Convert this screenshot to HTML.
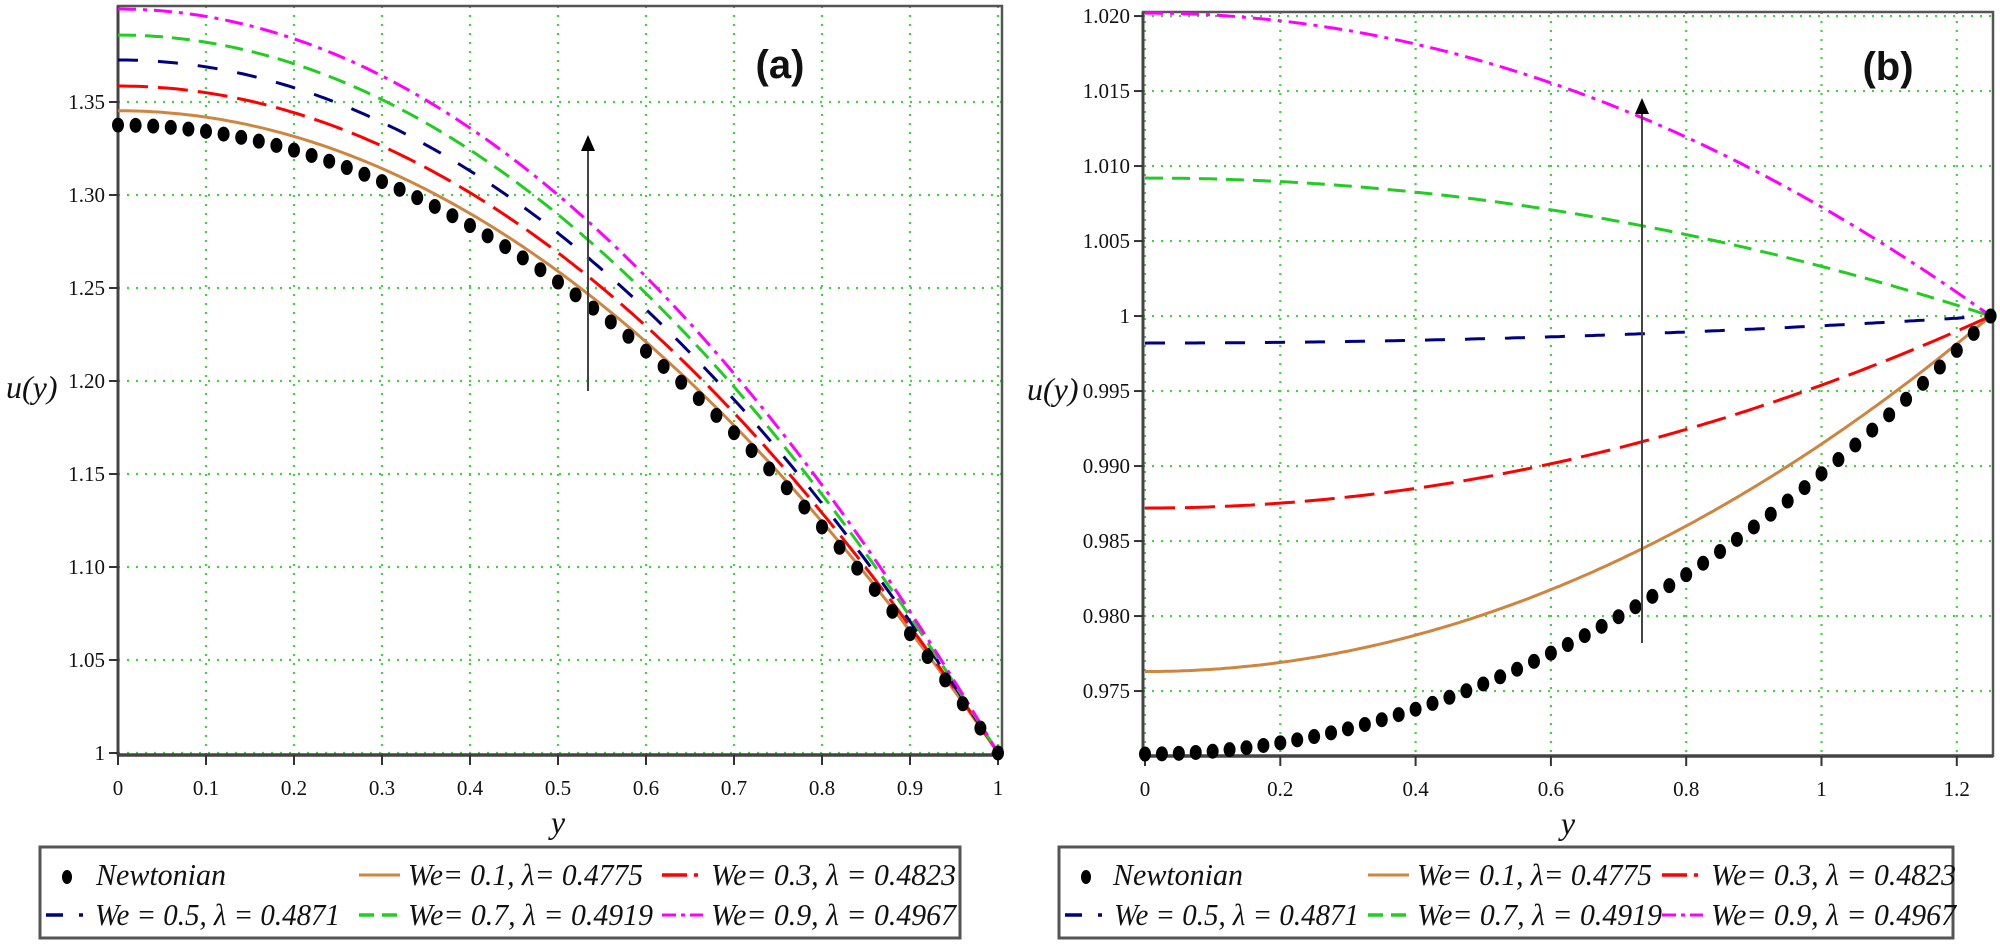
<!DOCTYPE html>
<html><head><meta charset="utf-8"><style>
html,body{margin:0;padding:0;background:#fff;}
svg{display:block;}
text{font-family:"Liberation Serif",serif;fill:#111;}
</style></head><body>
<svg id="s" width="2000" height="946" xmlns="http://www.w3.org/2000/svg">
<g id="g"></g>
</svg>
<script>
const NS="http://www.w3.org/2000/svg";const G=document.getElementById('g');
function el(t,a,txt){const e=document.createElementNS(NS,t);for(const k in a)e.setAttribute(k,a[k]);if(txt!==undefined)e.textContent=txt;G.appendChild(e);return e;}
const grid="#44d044";
function panel(P){
 const X=v=>P.x0+(v-P.xmin)*P.sx, Y=v=>P.y0-(v-P.ymin)*P.sy;
 P.xt.forEach(v=>{el('line',{x1:X(v),x2:X(v),y1:P.top,y2:P.bot,stroke:grid,'stroke-width':2.2,'stroke-dasharray':'2 7'});});
 P.yt.forEach(v=>{el('line',{x1:P.left,x2:P.right,y1:Y(v),y2:Y(v),stroke:grid,'stroke-width':2.2,'stroke-dasharray':'2 7'});});
 el('rect',{x:P.left,y:P.top,width:P.right-P.left,height:P.bot-P.top,fill:'none',stroke:'#555','stroke-width':2.5});
 el('line',{x1:P.left,x2:P.right,y1:P.bot,y2:P.bot,stroke:'#444','stroke-width':3.5});
 el('line',{x1:P.left,x2:P.left,y1:P.top,y2:P.bot,stroke:'#444','stroke-width':3});
 P.yt.forEach((v,i)=>{el('line',{x1:P.left-9,x2:P.left,y1:Y(v),y2:Y(v),stroke:'#333','stroke-width':2});
  el('text',{x:P.left-13,y:Y(v)+7,'text-anchor':'end','font-size':21},P.yl[i]);});
 P.xt.forEach((v,i)=>{el('line',{x1:X(v),x2:X(v),y1:P.bot,y2:P.bot+10,stroke:'#333','stroke-width':2});
  el('text',{x:X(v),y:P.bot+40,'text-anchor':'middle','font-size':21},P.xl[i]);});
 P.curves.forEach(c=>{let d='';for(let i=0;i<=200;i++){const v=P.xmin+(P.xmax-P.xmin)*i/200;d+=(i?'L':'M')+X(v).toFixed(1)+' '+Y(c.f(v)).toFixed(1);}
  el('path',{d:d,fill:'none',stroke:c.col,'stroke-width':3,'stroke-dasharray':c.da||'none'});});
 for(let i=0;i<=50;i++){const v=P.xmin+(P.xmax-P.xmin)*i/50;el('ellipse',{cx:X(v),cy:Y(P.newt(v)),rx:6,ry:7.5,fill:'#000'});}
 el('line',{x1:P.ax,x2:P.ax,y1:P.ay1,y2:P.ay2+14,stroke:'#444','stroke-width':2});
 el('polygon',{points:`${P.ax-7},${P.ay2+16} ${P.ax+7},${P.ay2+16} ${P.ax},${P.ay2}`,fill:'#000'});
 el('text',{x:P.lx,y:P.ly,'font-size':40,'font-weight':'bold',style:'font-family:"Liberation Sans",sans-serif;font-weight:bold','text-anchor':'middle'},P.lab);
 el('text',{x:P.ux,y:P.uy,'font-size':32,'font-style':'italic'},'u(y)');
 el('text',{x:P.yx,y:P.bot+78,'font-size':32,'font-style':'italic','text-anchor':'middle'},'y');
}
const cols={o:'#cd853f',r:'#ff0000',b:'#000080',g:'#22cc22',m:'#ff00ff'};
const das={r:'30 10',b:'20 20',g:'18 9',m:'18 7 4 7'};
const pa=(c0)=>(y=>1+(c0-1)*(1-y*y));
panel({x0:118,xmin:0,xmax:1,sx:880,y0:753,ymin:1,sy:1860,left:118,right:1002,top:6,bot:755,
 xt:[0,.1,.2,.3,.4,.5,.6,.7,.8,.9,1],xl:['0','0.1','0.2','0.3','0.4','0.5','0.6','0.7','0.8','0.9','1'],
 yt:[1,1.05,1.1,1.15,1.2,1.25,1.3,1.35],yl:['1','1.05','1.10','1.15','1.20','1.25','1.30','1.35'],
 curves:[{col:cols.o,f:pa(1.3453)},{col:cols.r,da:das.r,f:pa(1.3586)},{col:cols.b,da:das.b,f:pa(1.3726)},{col:cols.g,da:das.g,f:pa(1.386)},{col:cols.m,da:das.m,f:pa(1.4)}],
 newt:pa(1.3376),ax:588,ay1:391,ay2:135,lx:780,ly:78,lab:'(a)',ux:6,uy:398,yx:558});
const pb=(c0)=>(y=>c0+(1-c0)*(y/1.25)*(y/1.25));
panel({x0:1145,xmin:0,xmax:1.25,sx:676.5,y0:756,ymin:0.97067,sy:15000,left:1143,right:1993,top:12,bot:756,
 xt:[0,.2,.4,.6,.8,1,1.2],xl:['0','0.2','0.4','0.6','0.8','1','1.2'],
 yt:[.975,.98,.985,.99,.995,1,1.005,1.01,1.015,1.02],yl:['0.975','0.980','0.985','0.990','0.995','1','1.005','1.010','1.015','1.020'],
 curves:[{col:cols.o,f:pb(0.9763)},{col:cols.r,da:das.r,f:pb(0.9872)},{col:cols.b,da:das.b,f:pb(0.9982)},{col:cols.g,da:das.g,f:pb(1.0092)},{col:cols.m,da:das.m,f:pb(1.0202)}],
 newt:pb(0.9708),ax:1642,ay1:643,ay2:98,lx:1888,ly:80,lab:'(b)',ux:1027,uy:400,yx:1568});
function legend(x0,x1,o){
 el('rect',{x:x0,y:847,width:x1-x0,height:91,fill:'#fff',stroke:'#555','stroke-width':3});
 const r1=885,r2=925;
 el('ellipse',{cx:o.dot,cy:r1-8,rx:5,ry:7,fill:'#000'});
 const T=(x,y,s,w)=>el('text',{x:x,y:y,'font-size':31,'font-style':'italic',textLength:w,lengthAdjust:'spacingAndGlyphs'},s);
 T(o.t1,r1,'Newtonian',130);
 el('line',{x1:o.c2-45,x2:o.c2-4,y1:r1-10,y2:r1-10,stroke:cols.o,'stroke-width':3});
 T(o.c2+4,r1,'We= 0.1, λ= 0.4775',235);
 el('line',{x1:o.c3-45,x2:o.c3-20,y1:r1-10,y2:r1-10,stroke:cols.r,'stroke-width':3.5});
 el('line',{x1:o.c3-13,x2:o.c3-9,y1:r1-10,y2:r1-10,stroke:cols.r,'stroke-width':3.5});
 T(o.c3+4,r1,'We= 0.3, λ = 0.4823',245);
 el('line',{x1:o.b-9,x2:o.b+8,y1:r2-10,y2:r2-10,stroke:cols.b,'stroke-width':3.5});
 el('line',{x1:o.b+24,x2:o.b+28,y1:r2-10,y2:r2-10,stroke:cols.b,'stroke-width':3.5});
 T(o.b+40,r2,'We = 0.5, λ = 0.4871',245);
 el('line',{x1:o.c2-45,x2:o.c2-4,y1:r2-10,y2:r2-10,stroke:cols.g,'stroke-width':3.5,'stroke-dasharray':'15 8'});
 T(o.c2+4,r2,'We= 0.7, λ = 0.4919',245);
 el('line',{x1:o.c3-45,x2:o.c3-4,y1:r2-10,y2:r2-10,stroke:cols.m,'stroke-width':3,'stroke-dasharray':'14 5 4 5'});
 T(o.c3+4,r2,'We= 0.9, λ = 0.4967',245);
}
legend(40,960,{dot:67,t1:96,c2:404,c3:707,b:55});
legend(1059,1953,{dot:1086,t1:1113,c2:1413,c3:1707,b:1074});
</script>
</body></html>
